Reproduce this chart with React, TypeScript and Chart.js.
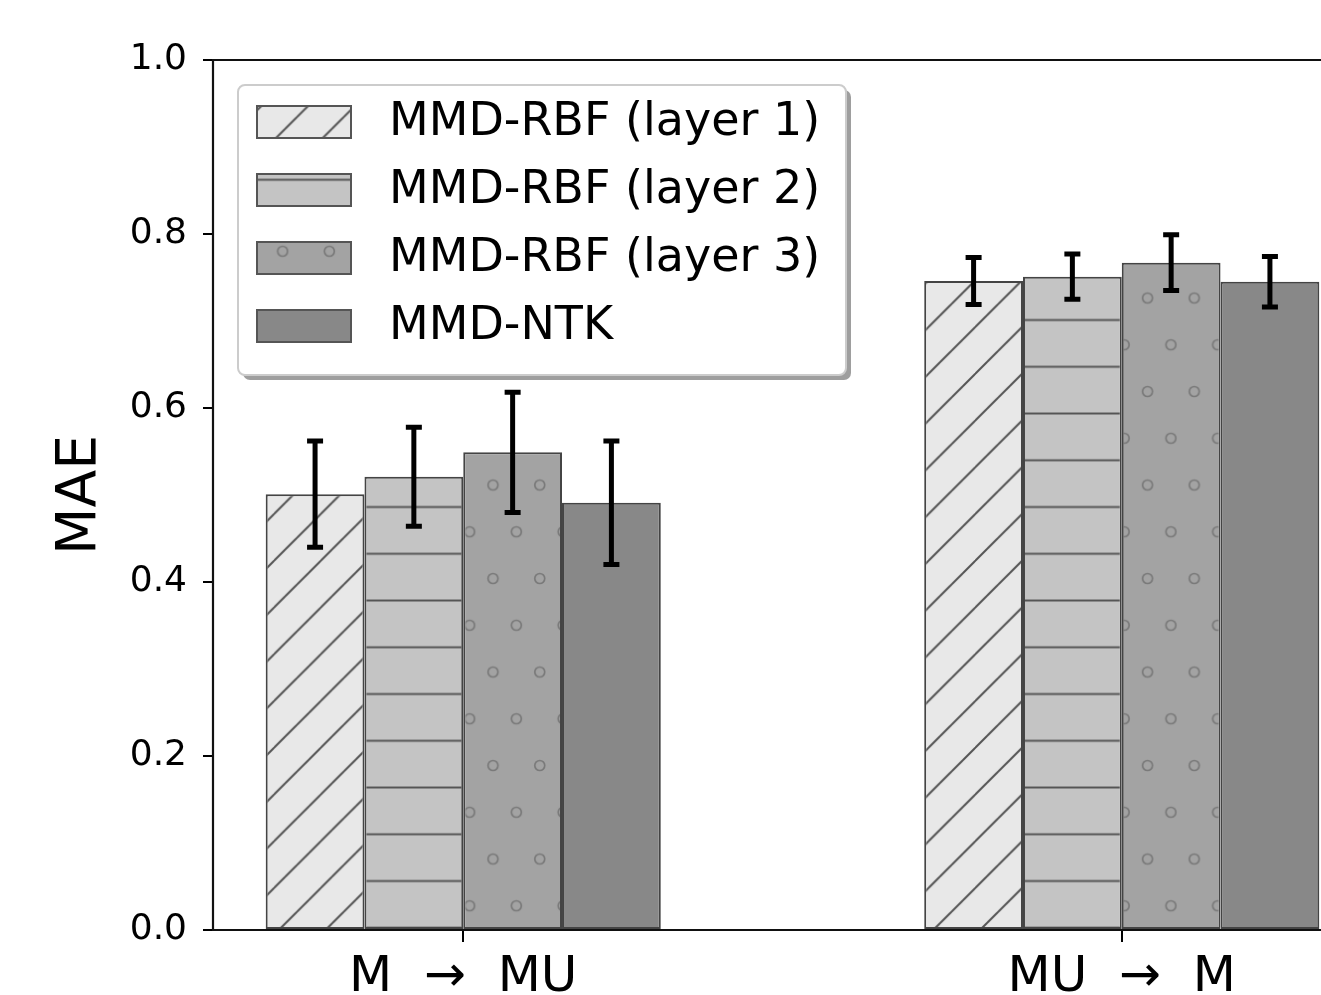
import React, { useEffect, useRef } from "react";
import { Chart, registerables } from "chart.js";

Chart.register(...registerables);

// ---------------- data ----------------
const categories = ["M  →  MU", "MU  →  M"];
const categoryPositions = [0, 1];
const seriesLabels = ["MMD-RBF (layer 1)", "MMD-RBF (layer 2)", "MMD-RBF (layer 3)", "MMD-NTK"];
const layer1Values = [0.501, 0.746];
const layer1Errors = [0.061, 0.027];
const layer2Values = [0.521, 0.751];
const layer2Errors = [0.057, 0.026];
const layer3Values = [0.549, 0.767];
const layer3Errors = [0.069, 0.032];
const ntkValues = [0.491, 0.745];
const ntkErrors = [0.071, 0.029];
const yTicks = [0.0, 0.2, 0.4, 0.6, 0.8, 1.0];
const xRange = [-0.38, 1.38];
const yRange = [0, 1];

const seriesValues = [layer1Values, layer2Values, layer3Values, ntkValues];
const seriesErrors = [layer1Errors, layer2Errors, layer3Errors, ntkErrors];
const seriesFills = ["#e8e8e8", "#c4c4c4", "#a3a3a3", "#888888"];
const seriesHatch = ["diag", "horiz", "circles", "none"];

const FONT = "'DejaVu Sans', 'Liberation Sans', sans-serif";
const HATCH_PERIOD = 46.75;

function makePattern(ctx: CanvasRenderingContext2D, kind: string, fill: string): CanvasPattern | string {
  if (kind === "none") return fill;
  const T = 47;
  const s = HATCH_PERIOD / T;
  const c = document.createElement("canvas");
  c.width = T;
  c.height = kind === "circles" ? 2 * T : T;
  const g = c.getContext("2d")!;
  g.fillStyle = fill;
  g.fillRect(0, 0, c.width, c.height);
  let e = 0;
  let f = 0;
  if (kind === "diag") {
    g.strokeStyle = "#555555";
    g.lineWidth = 2;
    for (const k of [0, T, 2 * T]) {
      g.beginPath();
      g.moveTo(k + 10, -10);
      g.lineTo(-10, k + 10);
      g.stroke();
    }
    e = 40;
    f = 0;
  } else if (kind === "horiz") {
    g.strokeStyle = "#555555";
    g.lineWidth = 2;
    g.beginPath();
    g.moveTo(-2, T / 2);
    g.lineTo(T + 2, T / 2);
    g.stroke();
    e = 0;
    f = 39.5 - s * (T / 2);
  } else if (kind === "circles") {
    g.strokeStyle = "#7a7a7a";
    g.lineWidth = 1.7;
    const pts = [
      [T / 4, T / 2],
      [(3 * T) / 4, (3 * T) / 2],
    ];
    for (const [px, py] of pts) {
      g.beginPath();
      g.arc(px, py, 5, 0, Math.PI * 2);
      g.stroke();
    }
    e = 25.5 - s * (T / 4);
    f = 17.5 - s * (T / 2);
  }
  const p = ctx.createPattern(c, "repeat")!;
  p.setTransform(new DOMMatrix([s, 0, 0, s, e, f]));
  return p;
}

const errorBarPlugin = {
  id: "errorBars",
  afterDatasetsDraw(chart: any) {
    const c = chart.ctx;
    const yScale = chart.scales.y;
    c.save();
    c.strokeStyle = "#000";
    c.lineCap = "butt";
    chart.data.datasets.forEach((ds: any, i: number) => {
      const meta = chart.getDatasetMeta(i);
      const errs = seriesErrors[i];
      meta.data.forEach((el: any, j: number) => {
        const v = seriesValues[i][j];
        const err = errs[j];
        const yt = yScale.getPixelForValue(v + err);
        const yb = yScale.getPixelForValue(v - err);
        c.lineWidth = 5;
        c.beginPath();
        c.moveTo(el.x, yt);
        c.lineTo(el.x, yb);
        c.stroke();
        c.lineWidth = 5;
        c.beginPath();
        c.moveTo(el.x - 8, yt);
        c.lineTo(el.x + 8, yt);
        c.moveTo(el.x - 8, yb);
        c.lineTo(el.x + 8, yb);
        c.stroke();
      });
    });
    c.restore();
  },
};

const framePlugin = {
  id: "frame",
  afterDatasetsDraw(chart: any) {
    const { left, right, top, bottom } = chart.chartArea;
    const c = chart.ctx;
    c.save();
    c.strokeStyle = "#111";
    c.lineWidth = 2.2;
    c.beginPath();
    c.moveTo(left, top);
    c.lineTo(right, top);
    c.moveTo(right, top);
    c.lineTo(right, bottom);
    c.moveTo(left, top);
    c.lineTo(left, bottom);
    c.moveTo(left, bottom);
    c.lineTo(right, bottom);
    c.stroke();
    c.restore();
  },
};

function roundRectPath(c: CanvasRenderingContext2D, x: number, y: number, w: number, h: number, r: number) {
  c.beginPath();
  c.moveTo(x + r, y);
  c.lineTo(x + w - r, y);
  c.arcTo(x + w, y, x + w, y + r, r);
  c.lineTo(x + w, y + h - r);
  c.arcTo(x + w, y + h, x + w - r, y + h, r);
  c.lineTo(x + r, y + h);
  c.arcTo(x, y + h, x, y + h - r, r);
  c.lineTo(x, y + r);
  c.arcTo(x, y, x + r, y, r);
  c.closePath();
}

const legendPlugin = {
  id: "hatchLegend",
  afterDraw(chart: any) {
    const c: CanvasRenderingContext2D = chart.ctx;
    const x0 = 238;
    const y0 = 85;
    const w = 608;
    const h = 290;
    c.save();
    roundRectPath(c, x0 + 5, y0 + 5, w, h, 7);
    c.fillStyle = "rgba(0,0,0,0.38)";
    c.fill();
    roundRectPath(c, x0, y0, w, h, 7);
    c.fillStyle = "#ffffff";
    c.fill();
    c.strokeStyle = "#cccccc";
    c.lineWidth = 2;
    c.stroke();
    chart.data.datasets.forEach((ds: any, i: number) => {
      const cy = 122 + i * 68;
      c.fillStyle = ds.backgroundColor;
      c.fillRect(257, cy - 16, 94, 32);
      c.strokeStyle = "#555555";
      c.lineWidth = 2;
      c.strokeRect(257, cy - 16, 94, 32);
      c.fillStyle = "#000";
      c.font = `46px ${FONT}`;
      c.textAlign = "left";
      c.textBaseline = "middle";
      c.fillText(ds.label, 389, cy + 1);
    });
    c.restore();
  },
};

export default function App() {
  const ref = useRef<HTMLCanvasElement>(null);
  useEffect(() => {
    const canvas = ref.current!;
    const ctx = canvas.getContext("2d")!;
    const datasets = seriesLabels.map((label, i) => ({
      label,
      data: categoryPositions.map((x, j) => ({ x, y: seriesValues[i][j] })),
      backgroundColor: makePattern(ctx, seriesHatch[i], seriesFills[i]),
      borderColor: "#444444",
      borderWidth: 2,
      borderSkipped: false as any,
      categoryPercentage: 0.6,
      barPercentage: 1.0,
    }));
    const chart = new Chart(canvas, {
      type: "bar",
      data: { datasets: datasets as any },
      options: {
        animation: false,
        responsive: false,
        devicePixelRatio: 1,
        events: [],
        layout: { padding: { top: 60, right: 28, bottom: 0, left: 0 } },
        plugins: {
          legend: { display: false },
          tooltip: { enabled: false },
        },
        scales: {
          x: {
            type: "linear",
            min: xRange[0],
            max: xRange[1],
            offset: false,
            afterBuildTicks: (scale: any) => {
              scale.ticks = categoryPositions.map((v) => ({ value: v }));
            },
            afterFit: (scale: any) => {
              scale.height = 65;
            },
            ticks: {
              autoSkip: false,
              maxRotation: 0,
              minRotation: 0,
              padding: 6,
              color: "#000",
              font: { family: FONT, size: 50 },
              callback: (v: any) => {
                const idx = categoryPositions.indexOf(Number(v));
                return idx >= 0 ? categories[idx] : "";
              },
            },
            grid: {
              display: true,
              offset: false,
              drawOnChartArea: false,
              drawTicks: true,
              tickLength: 12,
              color: "#000",
              lineWidth: 2,
            },
            border: { display: true, color: "#111", width: 2 },
          },
          y: {
            type: "linear",
            min: yRange[0],
            max: yRange[1],
            afterBuildTicks: (scale: any) => {
              scale.ticks = yTicks.map((v) => ({ value: v }));
            },
            afterFit: (scale: any) => {
              scale.width = 213;
            },
            ticks: {
              padding: 16,
              color: "#000",
              font: { family: FONT, size: 36 },
              callback: (v: any) => Number(v).toFixed(1),
            },
            grid: {
              display: true,
              offset: false,
              drawOnChartArea: false,
              drawTicks: true,
              tickLength: 10,
              color: "#000",
              lineWidth: 2,
            },
            border: { display: true, color: "#111", width: 2 },
            title: {
              display: true,
              text: "MAE",
              color: "#000",
              font: { family: FONT, size: 55 },
              padding: { top: 48, bottom: 0 },
            },
          },
        },
      },
      plugins: [framePlugin, errorBarPlugin, legendPlugin],
    });
    return () => chart.destroy();
  }, []);
  return (
    <div
      style={{
        position: "fixed",
        left: 0,
        top: 0,
        width: 1321,
        height: 995,
        overflow: "hidden",
        background: "#ffffff",
      }}
    >
      <canvas ref={ref} width={1400} height={995} style={{ display: "block" }} />
    </div>
  );
}
